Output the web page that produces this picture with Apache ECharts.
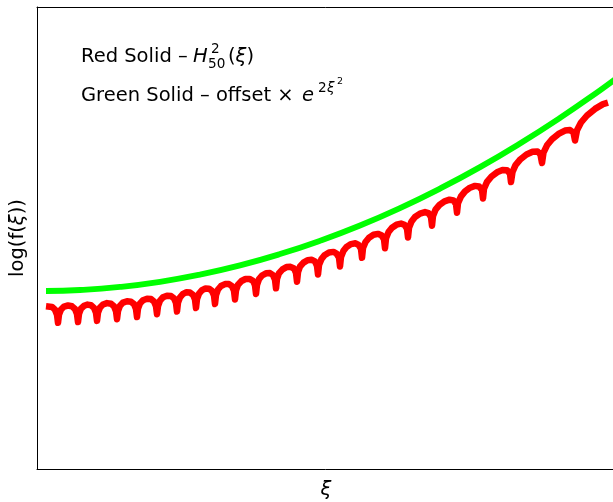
<!DOCTYPE html>
<html>
<head>
<meta charset="utf-8">
<script src="https://cdn.jsdelivr.net/npm/echarts@6/dist/echarts.min.js"></script>
<style>html,body{margin:0;padding:0;background:#fff}#c{width:613px;height:502px}</style>
</head>
<body>
<div id="c"></div>
<script>
// Axis units are arbitrary (the reference has no tick labels)
const redXi = [46,48,52,55,57,58,
59,61,64,68,72,75,77,78,
79,81,84,87.5,91,94,96,97,
98,100,103,107,111,114,116,117,
118,120,123,127,131,134,136,137,
138,140,143,147,151,154,156,157,
158,160,163,167,171,174,176,177,
178,180,183,186.5,190,193,195,196,
197,199,202,205.5,209,212,214,215,
216,218,221,225,229,232,234,235,
236,238,241.5,245.5,249.5,253,255,256,
257,259,262,266,270,273,275,276,
277,279,282.5,286.5,290.5,294,296,297,
298,300,303.5,307.5,311.5,315,317,318,
319,321.5,324.5,329,333.5,336.5,339,340,
341,343.5,346.5,351,355.5,358.5,361,362,
363,365.5,369,373.5,378,381.5,384,385,
386,388.5,392,396.5,401,404.5,407,408,
409,411.5,415,420,425,428.5,431,432,
433,435.5,439.5,444.5,449.5,453.5,456,457,
458,461,465,470,475,479,482,483,
484,487,491.5,497,502.5,507,510,511,
512.5,515.5,520.5,526.5,532.5,537.5,540.5,542,
543.5,547,552,558.5,565,570,573.5,575,
577,581,587,595,603,608];
const redLog = [162.8,163.0,162.1,159.3,154.3,146.2,
154.3,159.5,162.4,163.5,162.7,160.0,155.0,146.9,
155.1,160.3,163.2,164.4,163.7,161.1,156.1,148.1,
156.3,161.5,164.5,165.9,165.2,162.7,157.8,149.8,
158.0,163.3,166.4,167.8,167.3,164.9,160.0,152.0,
160.3,165.6,168.8,170.3,169.9,167.5,162.7,154.8,
163.0,168.4,171.7,173.3,173.0,170.7,165.9,157.5,
166.3,171.7,175.1,176.7,176.4,174.2,169.5,161.0,
169.9,175.4,178.8,180.5,180.3,178.1,173.5,165.0,
173.9,179.5,183.0,184.9,184.9,182.8,178.2,169.5,
178.7,184.3,188.0,190.0,190.1,188.2,183.7,175.0,
184.2,189.9,193.5,195.7,195.9,193.9,189.4,180.7,
190.1,195.8,199.6,201.9,202.2,200.5,196.0,187.3,
196.7,202.5,206.4,208.8,209.2,207.6,203.2,194.5,
203.9,209.9,213.8,216.5,217.1,215.5,211.3,202.6,
212.1,218.2,222.1,224.9,225.7,224.1,220.1,211.2,
220.9,227.0,231.3,234.2,235.1,233.8,229.8,220.8,
230.7,236.9,241.3,244.3,245.4,244.2,240.3,231.5,
241.2,247.5,252.0,255.4,256.9,255.8,251.9,243.3,
253.0,259.3,264.1,267.7,269.3,268.6,264.9,256.3,
265.9,272.6,277.6,281.3,283.1,282.5,279.1,270.6,
280.3,287.1,292.5,296.7,298.9,298.8,295.5,287.0,
297.0,303.9,309.8,314.5,317.2,317.6,314.4,306.0,
316.4,323.7,329.8,335.1,338.4,339.0,336.3,328.5,
338.7,346.5,353.5,360.1,364.9,366.4];
const greenXi  = [46,80,120,160,200,240,280,320,360,400,440,480,520,560,600,615];
const greenLog = [178.0,179.0,182.1,187.2,194.4,203.6,214.9,228.2,243.5,260.9,280.4,301.9,325.5,351.1,378.7,389.6];
const xRange = [37, 615];
const yRange = [0, 462];

const chart = echarts.init(document.getElementById('c'), null, {renderer: 'canvas'});
const font = '"DejaVu Sans", sans-serif';
const F = 19.5;
function t(x, y, text, size, italic, align) {
  return {
    type: 'text', x: x, y: y,
    style: { text: text, font: (italic ? 'italic ' : '') + size + 'px ' + font, fill: '#000',
             textAlign: align || 'left', textVerticalAlign: 'middle', align: align || 'left', verticalAlign: 'middle' }
  };
}
const hidden = { axisTick: {show: false}, axisLabel: {show: false}, splitLine: {show: false} };
const spine = { show: true, onZero: false, lineStyle: { color: '#000', width: 1 } };
chart.setOption({
  animation: false,
  backgroundColor: '#fff',
  grid: { left: 37, top: 7, width: 578, height: 462, outerBoundsMode: 'none', containLabel: false, show: false },
  xAxis: [
    Object.assign({ type: 'value', position: 'bottom', min: xRange[0], max: xRange[1], axisLine: spine }, hidden),
    Object.assign({ type: 'value', position: 'top', min: xRange[0], max: xRange[1], axisLine: spine }, hidden)
  ],
  yAxis: Object.assign({ type: 'value', min: yRange[0], max: yRange[1], axisLine: spine }, hidden),
  series: [
    { type: 'line', data: greenXi.map((x, i) => [x, greenLog[i]]), smooth: true, symbol: 'none',
      lineStyle: { color: '#00ff00', width: 5.8, cap: 'butt', join: 'round' } },
    { type: 'line', data: redXi.map((x, i) => [x, redLog[i]]), smooth: false, symbol: 'none',
      lineStyle: { color: '#ff0000', width: 6.5, cap: 'butt', join: 'round' } }
  ],
  graphic: [
    t(81, 57, 'Red Solid \u2013 ', F, false),
    t(193, 57, 'H', F, true),
    t(211, 49, '2', 13.6, false),
    t(208, 64, '50', 13.6, false),
    { type: 'text', x: 228, y: 57, style: { rich: { n: {font: F + 'px ' + font}, i: {font: 'italic ' + F + 'px ' + font} },
      text: '{n|(}{i|\u03be}{n|)}', fill: '#000', textAlign: 'left', textVerticalAlign: 'middle', align: 'left', verticalAlign: 'middle' } },
    t(81, 96, 'Green Solid \u2013 offset \u00d7', F, false),
    t(302, 96, 'e', F, true),
    t(318, 88, '2', 13.6, false),
    t(327, 88, '\u03be', 13.6, true),
    t(337, 82, '2', 9.5, false),
    { type: 'text', x: 18, y: 238, rotation: Math.PI / 2,
      style: { rich: { n: {font: F + 'px ' + font}, i: {font: 'italic ' + F + 'px ' + font} },
      text: '{n|log(f(}{i|\u03be}{n|))}', fill: '#000', textAlign: 'center', textVerticalAlign: 'middle', align: 'center', verticalAlign: 'middle' } },
    t(326, 490, '\u03be', F, true, 'center')
  ]
});
</script>
</body>
</html>
